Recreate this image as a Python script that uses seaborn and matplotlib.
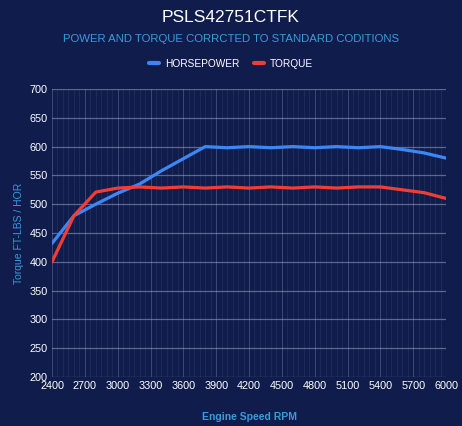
import numpy as np
import pandas as pd
import matplotlib
matplotlib.use("Agg")
import matplotlib.pyplot as plt
from matplotlib.lines import Line2D
import seaborn as sns

rpm = [2400, 2600, 2800, 3000, 3200, 3400, 3600, 3800, 4000, 4200,
       4400, 4600, 4800, 5000, 5200, 5400, 5600, 5800, 6000]
horsepower = [432, 480, 500, 519, 535, 558, 579, 600, 598, 600,
              598, 600, 598, 600, 598, 600, 595, 589, 580]
torque = [400, 480, 521, 528, 530, 528, 530, 528, 530, 528,
          530, 528, 530, 528, 530, 530, 525, 520, 510]
series_names = ["HORSEPOWER", "TORQUE"]
x_ticks = [2400, 2700, 3000, 3300, 3600, 3900, 4200, 4500, 4800, 5100, 5400, 5700, 6000]
y_ticks = [200, 250, 300, 350, 400, 450, 500, 550, 600, 650, 700]

BG = "#101d4c"
BLUE = "#3d87f5"
RED = "#f03e36"
LABEL_BLUE = "#3b9ad8"

sns.set_theme(style="dark")
plt.rcParams['font.family'] = ['Liberation Sans', 'DejaVu Sans']

df = pd.DataFrame({"rpm": rpm * 2,
                   "value": horsepower + torque,
                   "series": [series_names[0]] * len(rpm) + [series_names[1]] * len(rpm)})

fig = plt.figure(figsize=(4.62, 4.26), dpi=100, facecolor=BG)
ax = fig.add_axes([0.1126, 0.115, 0.8528, 0.6761])
ax.set_facecolor(BG)

# grid
for v in np.arange(2400, 6001, 50):
    ax.axvline(v, color="#8a94b8", alpha=0.13, lw=0.6, zorder=0)
for v in x_ticks:
    ax.axvline(v, color="#9aa3c4", alpha=0.25, lw=0.7, zorder=0)
for v in y_ticks:
    ax.axhline(v, color="#a8b0cc", alpha=0.5, lw=0.9, zorder=0)

sns.lineplot(data=df, x="rpm", y="value", hue="series",
             palette={series_names[0]: BLUE, series_names[1]: RED},
             linewidth=2.3, ax=ax, legend=False, zorder=3)

ax.set_xlim(2400, 6000)
ax.set_ylim(200, 700)
ax.set_xticks(x_ticks)
ax.set_yticks(y_ticks)
ax.tick_params(axis="both", colors="white", labelsize=7.8, length=0, pad=3)
ax.set_xlabel("Engine Speed RPM", color=LABEL_BLUE, fontsize=7.5, fontweight="bold", labelpad=15)
ax.set_ylabel("Torque FT-LBS / HOR", color=LABEL_BLUE, fontsize=7.5, labelpad=4)
ax.grid(False)
for s in ax.spines.values():
    s.set_visible(False)

fig.text(0.5, 0.958, "PSLS42751CTFK", color="white", fontsize=12.5,
         ha="center", va="center")
fig.text(0.5, 0.908, "POWER AND TORQUE CORRCTED TO STANDARD CODITIONS",
         color=LABEL_BLUE, fontsize=8.2, ha="center", va="center")

handles = [Line2D([0], [0], color=BLUE, lw=3.0),
           Line2D([0], [0], color=RED, lw=3.0)]
leg = fig.legend(handles, series_names, loc="center", bbox_to_anchor=(0.5, 0.85),
                 ncol=2, frameon=False, fontsize=7.3, handlelength=1.0,
                 handletextpad=0.6, columnspacing=1.4)
for t in leg.get_texts():
    t.set_color("white")

fig.savefig("out.png", dpi=100, facecolor=BG)
